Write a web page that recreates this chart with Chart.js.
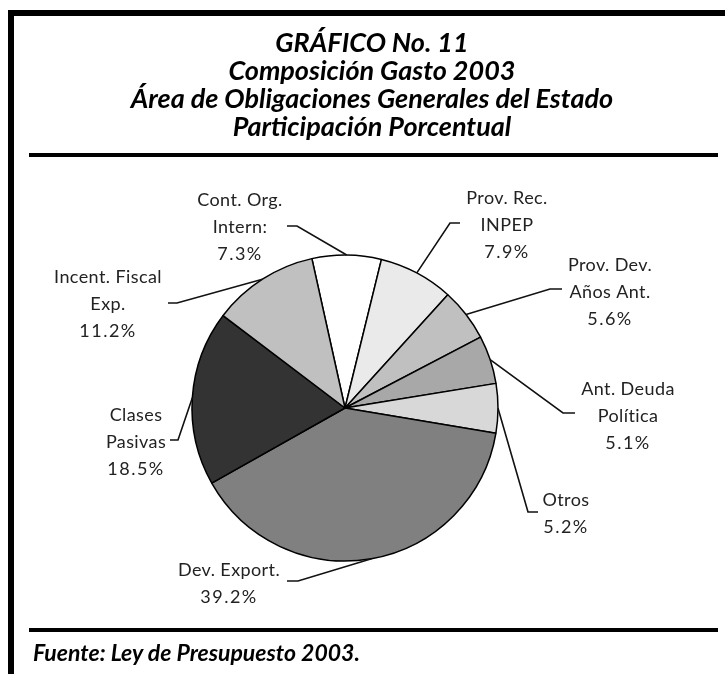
<!DOCTYPE html>
<html>
<head>
<meta charset="utf-8">
<script src="https://cdn.jsdelivr.net/npm/chart.js@4.4.0/dist/chart.umd.min.js"></script>
<style>
  body { margin: 0; background: #fff; width: 725px; height: 674px; overflow: hidden; position: relative; }
  .bar { position: absolute; background: #000; }
  #title { position: absolute; left: 14px; width: 716px; top: 28px; text-align: center;
           font: italic 700 27px/28px Lato, "Open Sans", sans-serif; color: #000; }
  #source { position: absolute; left: 33px; top: 638px; font: italic 700 23px/28px Lato, "Open Sans", sans-serif; color: #000; }
  #pie { position: absolute; left: 0; top: 0; }
</style>
</head>
<body>
<canvas id="pie" width="725" height="674"></canvas>
<div class="bar" style="left:8px;top:10px;width:717px;height:6px"></div>
<div class="bar" style="left:8px;top:10px;width:6px;height:664px"></div>
<div class="bar" style="left:29px;top:153px;width:689px;height:4px"></div>
<div class="bar" style="left:29px;top:628px;width:689px;height:4px"></div>
<div id="title">GRÁFICO No. 11<br>Composición Gasto 2003<br>Área de Obligaciones Generales del Estado<br>Participación Porcentual</div>
<div id="source">Fuente: Ley de Presupuesto 2003.</div>
<script>
// Composición del gasto 2003 - participación porcentual
const categories = ['Cont. Org. Intern:', 'Prov. Rec. INPEP', 'Prov. Dev. Años Ant.', 'Ant. Deuda Política',
    'Otros', 'Dev. Export.', 'Clases Pasivas', 'Incent. Fiscal Exp.'];
const labelLines = [['Cont. Org.', 'Intern:'], ['Prov. Rec.', 'INPEP'], ['Prov. Dev.', 'Años Ant.'],
    ['Ant. Deuda', 'Política'], ['Otros'], ['Dev. Export.'], ['Clases', 'Pasivas'], ['Incent. Fiscal', 'Exp.']];
const shares = [7.3, 7.9, 5.6, 5.1, 5.2, 39.2, 18.5, 11.2];
const fills = ['#ffffff', '#eaeaea', '#c0c0c0', '#a8a8a8', '#d8d8d8', '#808080', '#333333', '#c0c0c0'];

// where each callout sits, relative to the pie centre (elbow, line tip, first text line)
const callouts = [
    { elbow: [-48, -182], tip: [-58, -182], text: [-105, -208] },
    { elbow: [105, -185], tip: [115, -185], text: [162, -210] },
    { elbow: [205, -119], tip: [217, -119], text: [265, -143] },
    { elbow: [218, 5], tip: [230, 5], text: [283, -19] },
    { elbow: [183, 104], tip: [193, 104], text: [221, 92] },
    { elbow: [-47, 173], tip: [-58, 173], text: [-116, 162] },
    { elbow: [-167, 32], tip: [-175, 32], text: [-209, 7] },
    { elbow: [-168, -105], tip: [-177, -105], text: [-237, -131] }
];

const calloutPlugin = {
    id: 'callouts',
    afterDatasetsDraw(chart) {
        const ctx = chart.ctx;
        const arcs = chart.getDatasetMeta(0).data;
        ctx.save();
        arcs.forEach((arc, i) => {
            const p = arc.getProps(['x', 'y', 'startAngle', 'endAngle', 'outerRadius'], true);
            const mid = (p.startAngle + p.endAngle) / 2;
            const ex = p.x + Math.cos(mid) * p.outerRadius;
            const ey = p.y + Math.sin(mid) * p.outerRadius;
            const c = callouts[i];
            ctx.strokeStyle = '#111';
            ctx.lineWidth = 1.6;
            ctx.beginPath();
            ctx.moveTo(ex, ey);
            ctx.lineTo(p.x + c.elbow[0], p.y + c.elbow[1]);
            ctx.lineTo(p.x + c.tip[0], p.y + c.tip[1]);
            ctx.stroke();

            const lines = labelLines[i].concat([shares[i].toFixed(1) + '%']);
            ctx.fillStyle = '#222';
            ctx.textAlign = 'center';
            ctx.textBaseline = 'middle';
            lines.forEach((t, k) => {
                const isPct = k === lines.length - 1;
                ctx.font = '18px Lato, "Open Sans", sans-serif';
                ctx.letterSpacing = isPct ? '1.5px' : '0.4px';
                ctx.fillText(t, p.x + c.text[0], p.y + c.text[1] + k * 27);
            });
        });
        ctx.restore();
    }
};

new Chart(document.getElementById('pie').getContext('2d'), {
    type: 'pie',
    data: {
        labels: categories,
        datasets: [{
            data: shares,
            backgroundColor: fills,
            borderColor: '#000',
            borderWidth: 1.5
        }]
    },
    options: {
        responsive: false,
        animation: false,
        devicePixelRatio: 1,
        rotation: -12.5,
        radius: 153,
        layout: { padding: { left: 100, right: 135, top: 250, bottom: 108 } },
        plugins: {
            legend: { display: false },
            tooltip: { enabled: false }
        }
    },
    plugins: [calloutPlugin]
});
</script>
</body>
</html>
